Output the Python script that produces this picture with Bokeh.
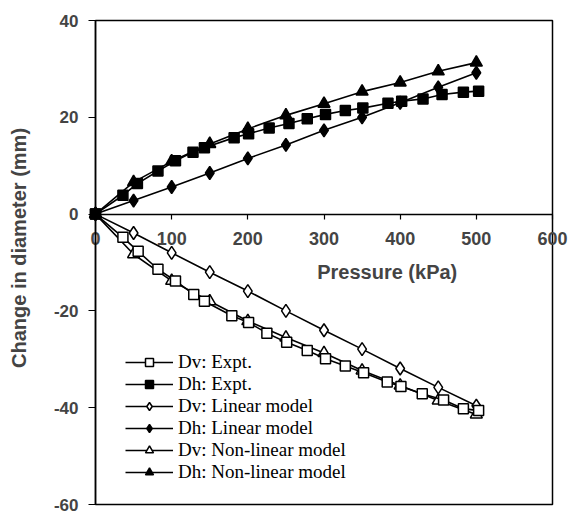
import math
from bokeh.plotting import figure
from bokeh.models import FixedTicker, Label, Legend, LegendItem, Range1d
from bokeh.embed import file_html
from bokeh.resources import INLINE

# ---- data ----
dv_expt_x = [0, 36, 56, 82, 105, 129, 143, 179, 201, 225, 251, 278, 302, 328, 352, 383, 401, 429, 457, 483, 503]
dv_expt_y = [0, -4.8, -7.7, -11.4, -13.8, -16.6, -18.0, -21.0, -22.4, -24.6, -26.5, -28.2, -29.9, -31.4, -32.8, -34.7, -35.6, -37.1, -38.4, -40.2, -40.6]

dh_expt_x = [0, 36, 55, 82, 105, 128, 143, 182, 201, 228, 254, 278, 302, 328, 351, 384, 402, 430, 455, 483, 503]
dh_expt_y = [0, 3.9, 6.3, 8.9, 11.0, 12.8, 13.7, 15.8, 16.6, 17.8, 18.7, 19.7, 20.6, 21.4, 21.9, 22.9, 23.3, 23.8, 24.7, 25.2, 25.4]

model_x = [0, 50, 100, 150, 200, 250, 300, 350, 400, 450, 500]
dv_lin_y = [0, -3.9, -8.0, -12.0, -15.9, -20.0, -24.0, -27.9, -31.9, -35.8, -39.6]
dh_lin_y = [0, 2.8, 5.6, 8.5, 11.5, 14.3, 17.3, 20.0, 23.0, 26.2, 29.2]
dv_nl_y = [0, -8.3, -13.8, -18.0, -22.1, -25.5, -28.7, -32.3, -35.4, -38.5, -41.4]
dh_nl_y = [0, 6.6, 10.9, 14.5, 17.6, 20.4, 22.8, 25.3, 27.2, 29.5, 31.3]

x_lim = [0, 600]
y_lim = [-60, 40]
x_ticks = [0, 100, 200, 300, 400, 500, 600]
y_ticks = [-60, -40, -20, 0, 20, 40]
y_tick_labels = ["-60", "-40", "-20", "0", "20", "40"]

series_names = ["Dv: Expt.", "Dh: Expt.", "Dv: Linear model", "Dh: Linear model",
                "Dv: Non-linear model", "Dh: Non-linear model"]

x_title = "Pressure (kPa)"
y_title = "Change in diameter (mm)"

# ---- layout (pixels) ----
W, H = 569, 514
FL, FR, FT, FB = 95, 552, 20, 504   # where the axes box sits on the page
sx = (FR - FL) / (x_lim[1] - x_lim[0])
sy = (FB - FT) / (y_lim[1] - y_lim[0])
x_range = Range1d(x_lim[0] - FL / sx, x_lim[1] + (W - FR) / sx)
y_range = Range1d(y_lim[0] - (H - FB) / sy, y_lim[1] + FT / sy)

p = figure(width=W, height=H, x_range=x_range, y_range=y_range,
           output_backend="svg", toolbar_location=None,
           min_border=0, min_border_left=0, min_border_right=0,
           min_border_top=0, min_border_bottom=0)
p.background_fill_color = "white"
p.border_fill_color = "white"
p.outline_line_color = None
p.xgrid.visible = False
p.ygrid.visible = False

SANS = "Liberation Sans"
SERIF = "Liberation Serif"

# axes box
p.quad(left=[x_lim[0]], right=[x_lim[1]], bottom=[y_lim[0]], top=[y_lim[1]],
       fill_alpha=0, line_color="black", line_width=1.5)

# x axis through the origin
xa = p.xaxis[0]
xa.fixed_location = 0
xa.bounds = (x_lim[0], x_lim[1])
xa.ticker = FixedTicker(ticks=x_ticks)
xa.axis_line_color = "black"
xa.axis_line_width = 1.5
xa.major_tick_in = 0
xa.major_tick_out = 5
xa.major_tick_line_width = 1.2
xa.minor_tick_line_color = None
xa.major_label_text_font = SANS
xa.major_label_text_font_style = "bold"
xa.major_label_text_font_size = "18px"
xa.major_label_standoff = 13

ya = p.yaxis[0]
ya.fixed_location = 0
ya.bounds = (y_lim[0], y_lim[1])
ya.ticker = FixedTicker(ticks=y_ticks)
ya.major_label_overrides = {t: l for t, l in zip(y_ticks, y_tick_labels)}
ya.axis_line_color = "black"
ya.axis_line_width = 1.5
ya.major_tick_in = 0
ya.major_tick_out = 7
ya.major_tick_line_width = 1.2
ya.minor_tick_line_color = None
ya.major_label_text_font = SANS
ya.major_label_text_font_style = "bold"
ya.major_label_text_font_size = "17px"
ya.major_label_standoff = 10

LW = 1.6

def add_series(x, y, marker, fill, size):
    ln = p.line(x, y, line_color="black", line_width=LW)
    sc = p.scatter(x, y, marker=marker, size=size, line_color="black",
                   line_width=1.5, fill_color=fill)
    return [ln, sc]

r_dv_lin = add_series(model_x, dv_lin_y, "diamond", "white", 13)
r_dh_lin = add_series(model_x, dh_lin_y, "diamond", "black", 13)
r_dv_nl = add_series(model_x, dv_nl_y, "triangle", "white", 12)
r_dh_nl = add_series(model_x, dh_nl_y, "triangle", "black", 12)
r_dv_ex = add_series(dv_expt_x, dv_expt_y, "square", "white", 10)
r_dh_ex = add_series(dh_expt_x, dh_expt_y, "square", "black", 10)

legend = Legend(items=[
    LegendItem(label=series_names[0], renderers=r_dv_ex),
    LegendItem(label=series_names[1], renderers=r_dh_ex),
    LegendItem(label=series_names[2], renderers=r_dv_lin),
    LegendItem(label=series_names[3], renderers=r_dh_lin),
    LegendItem(label=series_names[4], renderers=r_dv_nl),
    LegendItem(label=series_names[5], renderers=r_dh_nl),
], location=(125, 31))
legend.padding = 0
legend.margin = 0
legend.spacing = 0
legend.border_line_alpha = 0
legend.background_fill_alpha = 0
legend.glyph_width = 48
legend.glyph_height = 20
legend.label_height = 20
legend.label_standoff = 5
legend.label_text_font = SERIF
legend.label_text_font_size = "19px"
legend.label_text_line_height = 1.0
legend.label_text_color = "black"
p.add_layout(legend, "center")

p.add_layout(Label(x=383, y=-12, text=x_title, text_font=SANS, text_font_style="bold",
                   text_font_size="20px", text_align="center", text_baseline="middle"))
p.add_layout(Label(x=-101, y=-7.0, text=y_title, angle=math.pi / 2, text_font=SANS,
                   text_font_style="bold", text_font_size="20px", text_align="center",
                   text_baseline="middle"))

open("out.html", "w").write(file_html(p, INLINE))
